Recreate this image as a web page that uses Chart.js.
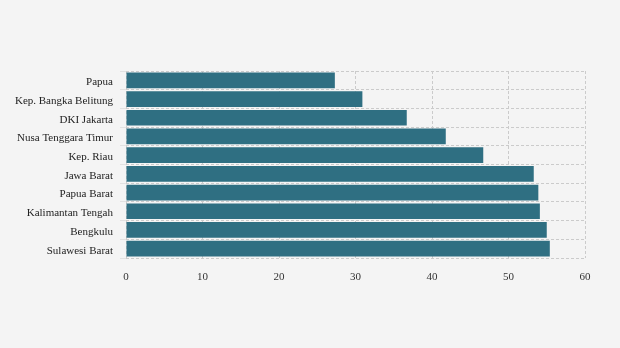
<!DOCTYPE html>
<html>
<head>
<meta charset="utf-8">
<script src="https://cdn.jsdelivr.net/npm/chart.js@4/dist/chart.umd.min.js"></script>
<style>
  html, body { margin: 0; padding: 0; background: #f4f4f4; }
  #wrap { width: 620px; height: 348px; }
</style>
</head>
<body>
<div id="wrap"><canvas id="mycanvas" width="620" height="348"></canvas></div>
<script>
var provinsi = ["Papua", "Kep. Bangka Belitung", "DKI Jakarta", "Nusa Tenggara Timur", "Kep. Riau",
	"Jawa Barat", "Papua Barat", "Kalimantan Tengah", "Bengkulu", "Sulawesi Barat"];
var nilai = [27.3, 30.9, 36.7, 41.8, 46.7, 53.3, 53.9, 54.1, 55.0, 55.4];
var xTicks = [0, 10, 20, 30, 40, 50, 60];

var gridColor = "#cbcbcb";

var ctx = document.getElementById("mycanvas");
var chart = new Chart(ctx, {
	type: "bar",
	data: {
		labels: provinsi,
		datasets: [{
			data: nilai,
			backgroundColor: "#2f6f82",
			borderWidth: 0,
			categoryPercentage: 1,
			barPercentage: 0.84
		}]
	},
	options: {
		indexAxis: "y",
		responsive: false,
		animation: false,
		layout: { padding: { top: 71, right: 35, bottom: 0, left: 0 } },
		plugins: {
			legend: { display: false },
			tooltip: { enabled: false }
		},
		scales: {
			x: {
				min: 0,
				max: 60,
				afterBuildTicks: function(scale) {
					scale.ticks = xTicks.map(function(v) { return { value: v }; });
				},
				afterFit: function(scale) { scale.height = 90; },
				grid: { color: gridColor, drawTicks: false },
				border: { display: false, dash: [3, 2] },
				ticks: { color: "#333", padding: 13, font: { family: "Liberation Serif", size: 11 } }
			},
			y: {
				afterFit: function(scale) { scale.width = 126; },
				grid: { color: gridColor, offset: true, tickLength: 6, tickColor: "#e2e2e2" },
				border: { display: false, dash: [3, 2] },
				ticks: { color: "#222", padding: 7, labelOffset: 2, font: { family: "Liberation Serif", size: 11 } }
			}
		}
	}
});
</script>
</body>
</html>
